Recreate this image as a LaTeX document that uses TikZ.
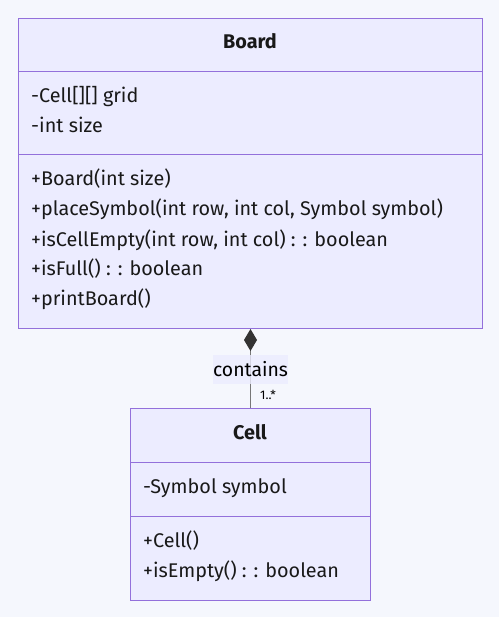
\documentclass[tikz,border=0pt]{standalone}
\usepackage{fontspec}
\setmainfont{Fira Sans}
\usetikzlibrary{arrows.meta}
\definecolor{bg}{HTML}{F5F7FD}
\definecolor{boxfill}{HTML}{ECECFF}
\definecolor{boxline}{HTML}{9370DB}
\definecolor{edge}{HTML}{777777}
\definecolor{ink}{HTML}{333333}
\tikzset{
  classbox/.style={draw=boxline, fill=boxfill, line width=1pt, inner sep=0pt, anchor=north west},
  sep/.style={draw=boxline, line width=1pt},
  member/.style={anchor=base west, inner sep=0pt, font=\fontsize{19.8}{23}\selectfont, text=black!90},
  ctitle/.style={anchor=base, inner sep=0pt, font=\fontsize{19.8}{23}\selectfont\bfseries, text=black!90},
  assoc/.style={draw=edge, line width=1pt},
  lbl/.style={fill=boxfill, fill opacity=0.8, text opacity=1, inner sep=0pt, minimum width=75pt, minimum height=29pt, font=\fontsize{19.4}{23}\selectfont},
  mult/.style={inner sep=0pt, anchor=base west, font=\fontsize{12.5}{14}\selectfont}
}
\begin{document}
\begin{tikzpicture}[x=1pt,y=-1pt]
\fill[bg] (0,0) rectangle (499,617);
\useasboundingbox (0,0) rectangle (499,617);
% Board
\node[classbox, minimum width=464pt, minimum height=310pt] (board) at (18,18) {};
\draw[sep] (18,72) -- (482,72);
\draw[sep] (18,155) -- (482,155);
\node[ctitle] (bt) at (250,49) {Board};
\node[member] (b1) at (31,103) {-Cell[][] grid};
\node[member] (b2) at (31,133) {-int size};
\node[member] (b3) at (31,186) {+Board(int size)};
\node[member] (b4) at (31,216) {+placeSymbol(int row, int col, Symbol symbol)};
\node[member] (b5) at (31,246) {+isCellEmpty(int row, int col) : : boolean};
\node[member] (b6) at (31,275) {+isFull() : : boolean};
\node[member] (b7) at (31,305) {+printBoard()};
% Cell
\node[classbox, minimum width=240pt, minimum height=192pt] (cell) at (130,408) {};
\draw[sep] (130,462) -- (370,462);
\draw[sep] (130,516) -- (370,516);
\node[ctitle] (ct) at (250,439) {Cell};
\node[member] (c1) at (143,493) {-Symbol symbol};
\node[member] (c2) at (143,547) {+Cell()};
\node[member] (c3) at (143,577) {+isEmpty() : : boolean};
% association
\draw[assoc, -{Diamond[length=22pt,width=13pt,fill=ink,color=ink]}] (cell.north) -- (board.south)
  node[lbl, pos=0.49] (lab) {contains};
\node[mult] (m) at (260,399) {1..*};
\end{tikzpicture}
\end{document}
